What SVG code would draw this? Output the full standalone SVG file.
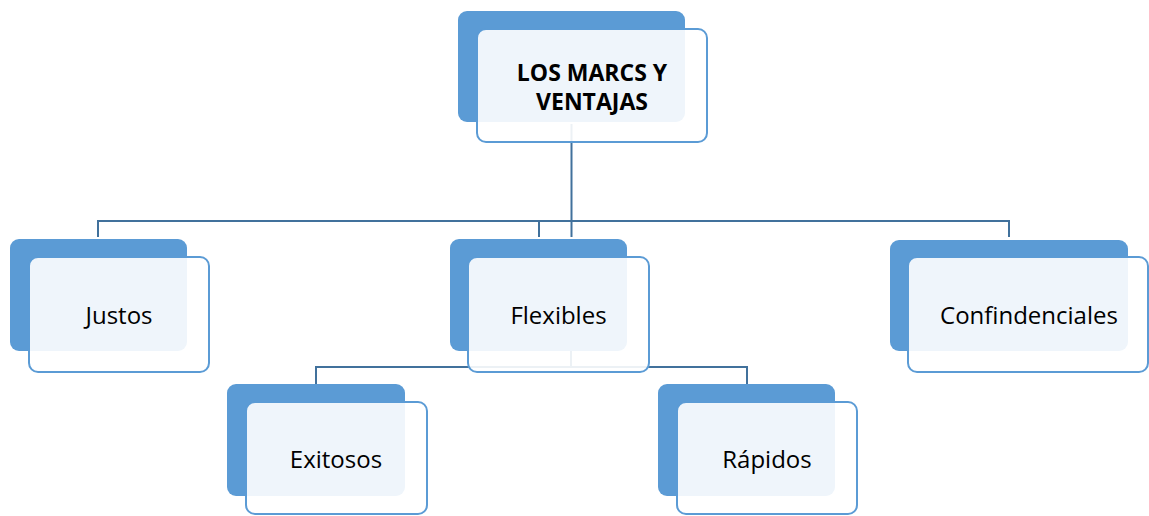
<svg xmlns="http://www.w3.org/2000/svg" width="1149" height="516" viewBox="0 0 1149 516">
<style>
.back{fill:#5B9BD5}
.front{fill:#FFFFFF;fill-opacity:0.9;stroke:#5B9BD5;stroke-width:2}
.conn{fill:none;stroke:#41719C;stroke-width:2}
.lbl{font-family:"Open Sans","Liberation Sans",sans-serif;font-size:24px;fill:#000;text-anchor:middle;dominant-baseline:central}
.bold{font-weight:bold}
</style>
<rect width="1149" height="516" fill="#FFFFFF"/>
<g id="back-shapes">
<rect class="back" x="458" y="11" width="227" height="111" rx="9"/>
<rect class="back" x="10" y="239" width="177" height="112" rx="9"/>
<rect class="back" x="450" y="239" width="177" height="112" rx="9"/>
<rect class="back" x="890" y="240" width="238" height="111" rx="9"/>
<rect class="back" x="227" y="384" width="178" height="112" rx="9"/>
<rect class="back" x="658" y="384" width="177" height="112" rx="9"/>
</g>
<g id="connectors">
<path class="conn" d="M571.5 124 V237"/>
<path class="conn" d="M98 237 V221 H1009 V237"/>
<path class="conn" d="M539 221 V237"/>
<path class="conn" d="M571 351 V367"/>
<path class="conn" d="M316 384 V367 H747 V384"/>
</g>
<g id="node-top">
<rect class="front" x="477" y="29" width="230" height="113" rx="9"/>
<text class="lbl bold" x="592" y="72" style="font-size:23px">LOS MARCS Y</text>
<text class="lbl bold" x="592" y="101" style="font-size:23px">VENTAJAS</text>
</g>
<g id="node-justos">
<rect class="front" x="29" y="257" width="180" height="115" rx="9"/>
<text class="lbl" x="119" y="314">Justos</text>
</g>
<g id="node-flexibles">
<rect class="front" x="468" y="257" width="181" height="115" rx="9"/>
<text class="lbl" x="558.5" y="314">Flexibles</text>
</g>
<g id="node-confindenciales">
<rect class="front" x="908" y="257" width="240" height="115" rx="9"/>
<text class="lbl" x="1029" y="314">Confindenciales</text>
</g>
<g id="node-exitosos">
<rect class="front" x="246" y="402" width="181" height="112" rx="9"/>
<text class="lbl" x="336" y="458">Exitosos</text>
</g>
<g id="node-rapidos">
<rect class="front" x="677" y="402" width="180" height="112" rx="9"/>
<text class="lbl" x="767" y="458">Rápidos</text>
</g>
</svg>
